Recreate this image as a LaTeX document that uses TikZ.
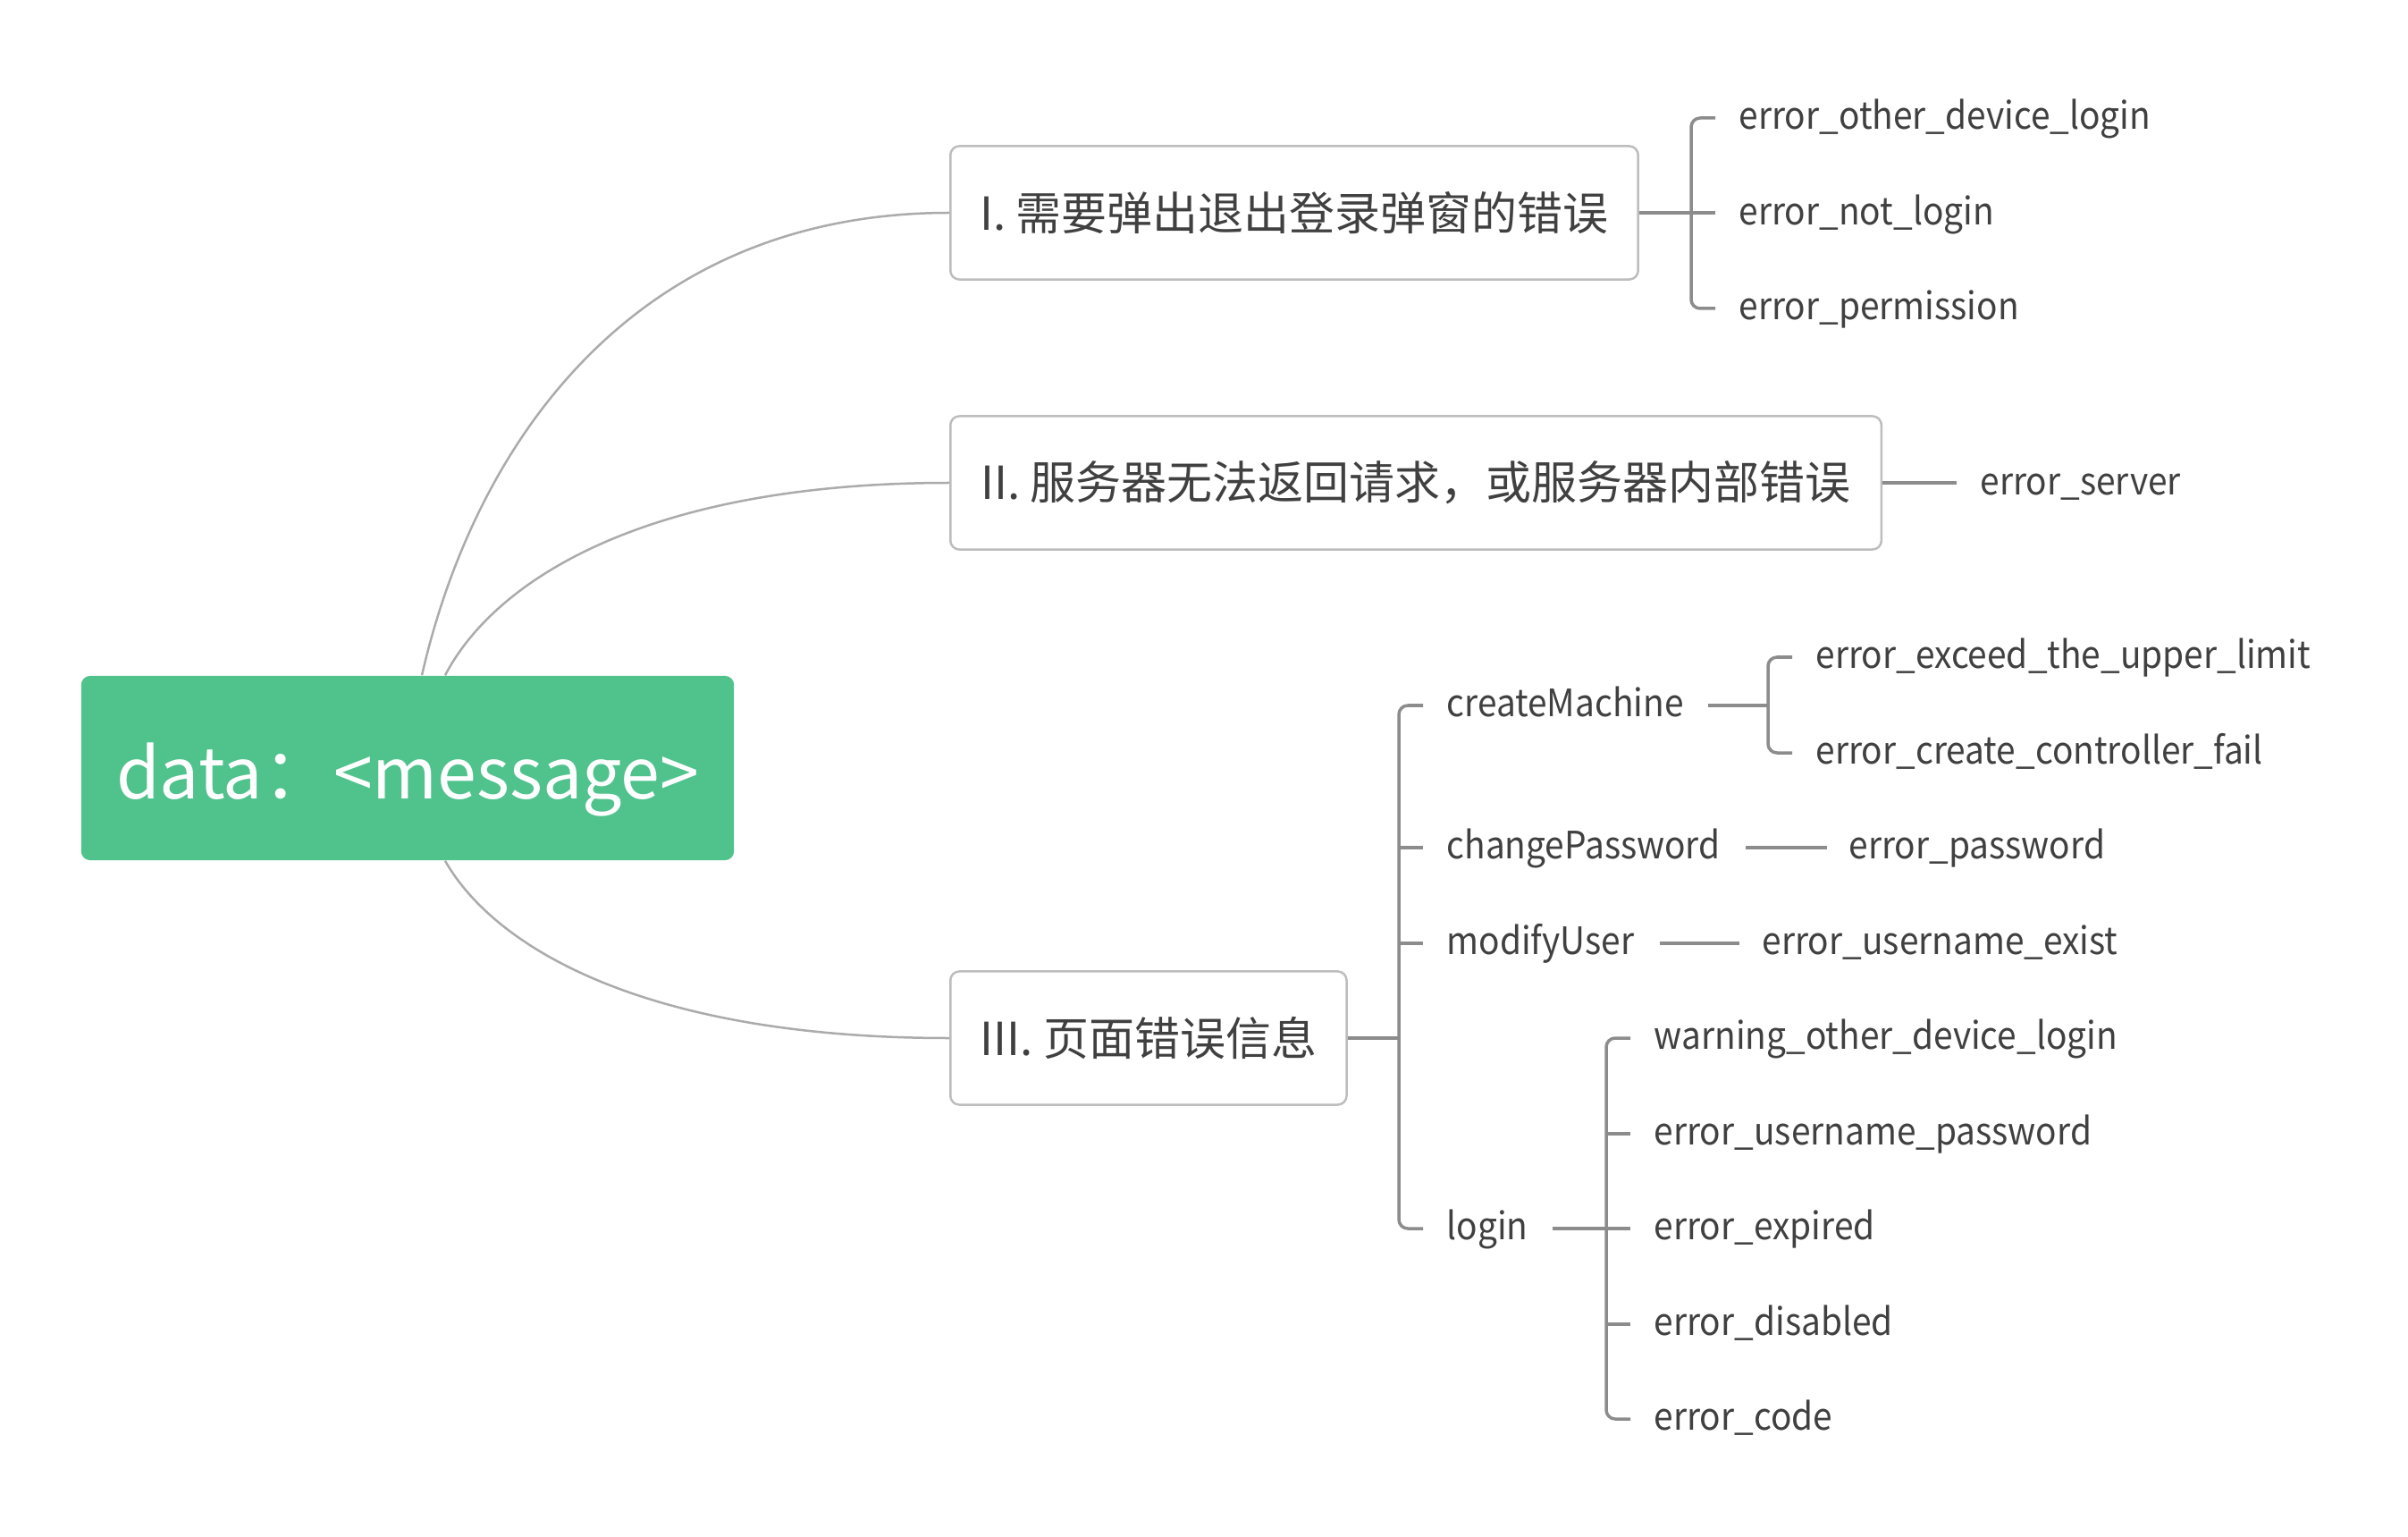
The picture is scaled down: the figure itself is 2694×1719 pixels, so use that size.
\documentclass[tikz,border=0pt]{standalone}
\usepackage{fontspec}
\setmainfont{Noto Sans CJK SC}
\newfontfamily\leaffont[FakeStretch=0.92]{Noto Sans CJK SC}
\usetikzlibrary{calc}
\definecolor{rootgreen}{HTML}{50C38D}
\definecolor{txt}{HTML}{404040}
\definecolor{boxline}{HTML}{BDBDBD}
\definecolor{curvecol}{HTML}{ABABAB}
\definecolor{brk}{HTML}{8C8C8C}
\begin{document}
\begin{tikzpicture}[x=0.01cm,y=-0.01cm,
  rootbox/.style={fill=rootgreen, rounded corners=0.1cm, minimum width=7.3cm, minimum height=2.06cm,
    text=white, font=\fontsize{22.4}{26}\selectfont, inner sep=0, text height=24.4pt, text depth=5pt},
  topic/.style={draw=boxline, line width=0.025cm, rounded corners=0.1cm, minimum height=1.49cm,
    anchor=west, font=\fontsize{14.5}{17}\selectfont, text=txt, inner sep=0},
  leaf/.style={anchor=west, inner sep=0, text=txt, font=\leaffont\fontsize{12}{15}\selectfont,
    text height=9.6pt, text depth=2.4pt},
  curveline/.style={draw=curvecol, line width=0.025cm},
  bline/.style={draw=brk, line width=0.035cm, rounded corners=0.1cm},
]
\useasboundingbox (0,0) rectangle (2694,1719);

% root
\node[rootbox] (root) at (456,859) {data：<message>};

% main topics
\node[topic, minimum width=7.69cm] (b1) at (1062,238) {I. 需要弹出退出登录弹窗的错误};
\node[topic, minimum width=10.41cm] (b2) at (1062,540) {II. 服务器无法返回请求，或服务器内部错误};
\node[topic, minimum width=4.43cm] (b3) at (1062,1161) {III. 页面错误信息};

% curves
\draw[curveline] ($(root.north)+(16,0)$) .. controls (531,497) and (708,238) .. (b1.west);
\draw[curveline] ($(root.north)+(42,0)$) .. controls (554,648) and (724,540) .. (b2.west);
\draw[curveline] ($(root.south)+(42,0)$) .. controls (554,1061) and (724,1161) .. (b3.west);

% branch I
\node[leaf] (c11) at (1945,132) {error\_other\_device\_login};
\node[leaf] (c12) at (1945,239) {error\_not\_login};
\node[leaf] (c13) at (1945,345) {error\_permission};
\draw[bline] (b1.east) -- ($(b1.east -| c12.west)+(-26,0)$);
\draw[bline] ($(c11.west)+(-26,0)$) -| ($(c13.west)+(-53,0)$) -- ($(c13.west)+(-26,0)$);

% branch II
\node[leaf] (es) at (2215,541) {error\_server};
\draw[bline] (b2.east) -- ($(b2.east -| es.west)+(-26,0)$);

% branch III
\node[leaf] (cm) at (1618,789) {createMachine};
\node[leaf] (cp) at (1618,948) {changePassword};
\node[leaf] (mu) at (1618,1055) {modifyUser};
\node[leaf] (lg) at (1618,1374) {login};
\draw[bline] (b3.east) -- ($(b3.east -| cm.west)+(-53,0)$);
\draw[bline] ($(cm.west)+(-26,0)$) -| ($(lg.west)+(-53,0)$) -- ($(lg.west)+(-26,0)$);
\draw[bline] ($(cp.west)+(-26,0)$) -- ($(cp.west)+(-53,0)$);
\draw[bline] ($(mu.west)+(-26,0)$) -- ($(mu.west)+(-53,0)$);

% createMachine
\node[leaf] (e1) at (2031,735) {error\_exceed\_the\_upper\_limit};
\node[leaf] (e2) at (2031,842) {error\_create\_controller\_fail};
\draw[bline] ($(cm.east)+(27,0)$) -- ($(cm.east -| e1.west)+(-53,0)$);
\draw[bline] ($(e1.west)+(-26,0)$) -| ($(e2.west)+(-53,0)$) -- ($(e2.west)+(-26,0)$);

% changePassword
\node[leaf] (ep) at (2068,948) {error\_password};
\draw[bline] ($(cp.east)+(28,0)$) -- ($(ep.west)+(-24,0)$);

% modifyUser
\node[leaf] (eu) at (1971,1055) {error\_username\_exist};
\draw[bline] ($(mu.east)+(28,0)$) -- ($(eu.west)+(-25,0)$);

% login
\node[leaf] (l1) at (1850,1161) {warning\_other\_device\_login};
\node[leaf] (l2) at (1850,1268) {error\_username\_password};
\node[leaf] (l3) at (1850,1374) {error\_expired};
\node[leaf] (l4) at (1850,1481) {error\_disabled};
\node[leaf] (l5) at (1850,1587) {error\_code};
\draw[bline] ($(lg.east)+(27,0)$) -- ($(l3.west)+(-26,0)$);
\draw[bline] ($(l1.west)+(-26,0)$) -| ($(l5.west)+(-53,0)$) -- ($(l5.west)+(-26,0)$);
\draw[bline] ($(l2.west)+(-26,0)$) -- ($(l2.west)+(-53,0)$);
\draw[bline] ($(l4.west)+(-26,0)$) -- ($(l4.west)+(-53,0)$);
\end{tikzpicture}
\end{document}
